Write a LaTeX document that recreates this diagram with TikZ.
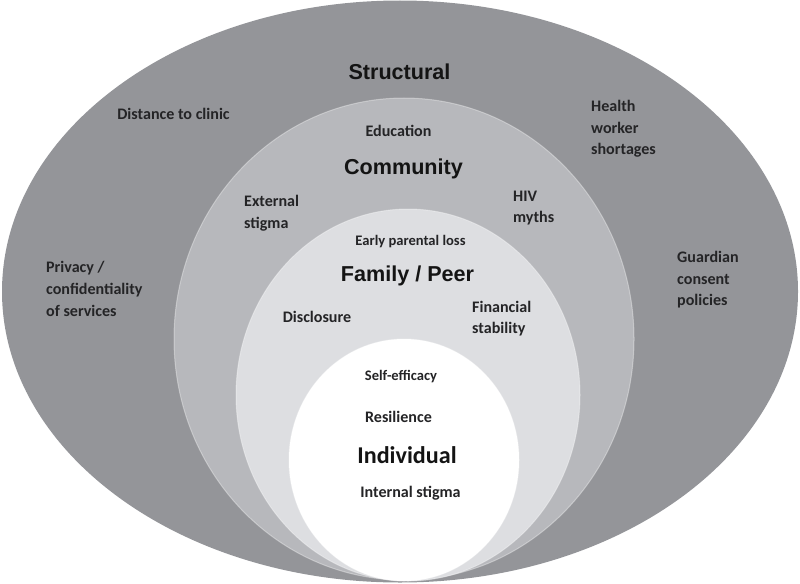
\documentclass[tikz,border=0pt]{standalone}
\usepackage{fontspec}
\setmainfont{Carlito}
\newfontfamily\headfont{Liberation Sans}
\usepackage{tikz}
\definecolor{ringout}{RGB}{148,149,153}
\definecolor{ringcom}{RGB}{183,184,188}
\definecolor{ringfam}{RGB}{221,222,225}
\definecolor{txtgray}{RGB}{36,36,38}

\begin{document}
\begin{tikzpicture}[x=0.35mm, y=-0.35mm,
	 ring/.style={draw=white, draw opacity=0.35, line width=1pt},
	 label/.style={align=left, inner sep=0pt, text=txtgray, font=\bfseries\fontsize{16}{21.5}\selectfont},
	 smalllabel/.style={label, font=\bfseries\fontsize{14.5}{18}\selectfont},
	 levelhead/.style={inner sep=0pt, text=black!92, font=\headfont\bfseries\fontsize{21.5}{24}\selectfont},
	 innerhead/.style={inner sep=0pt, text=black!92, font=\bfseries\fontsize{24}{26}\selectfont}]
	    \useasboundingbox (0,0) rectangle (800,583);
	    \fill[ringout] (400,291.5) ellipse [x radius=398, y radius=291];
	    \filldraw[ring, fill=ringcom] (404,339) ellipse [x radius=230, y radius=241];
	    \filldraw[ring, fill=ringfam] (408,395) ellipse [x radius=172, y radius=186];
	    \filldraw[ring, fill=white] (404,460) ellipse [x radius=115, y radius=121];
	    \node (structural) at (399.5,72) [levelhead] {Structural};
	    \node (distance) at (173.5,114) [label] {Distance to clinic};
	    \node (health) at (591,129) [label, anchor=west] {Health\\worker\\shortages};
	    \node (privacy) at (46,289) [label, anchor=west] {Privacy /\\confidentiality\\of services};
	    \node (guardian) at (677,280) [label, anchor=west] {Guardian\\consent\\policies};
	    \node (education) at (398.5,131) [label] {Education};
	    \node (community) at (403.5,169) [levelhead] {Community};
	    \node (extstigma) at (244,213.5) [label, anchor=west] {External\\stigma};
	    \node (hivmyths) at (513,208) [label, anchor=west] {HIV\\myths};
	    \node (parental) at (410.5,242) [smalllabel] {Early parental loss};
	    \node (family) at (407.5,276) [levelhead] {Family / Peer};
	    \node (disclosure) at (317,317) [label] {Disclosure};
	    \node (financial) at (472,318.5) [label, anchor=west] {Financial\\stability};
	    \node (selfeff) at (401,377) [smalllabel] {Self-efficacy};
	    \node (resilience) at (398.5,417) [label] {Resilience};
	    \node (individual) at (407,455) [innerhead] {Individual};
	    \node (intstigma) at (410.5,493) [label] {Internal stigma};
\end{tikzpicture}
\end{document}
